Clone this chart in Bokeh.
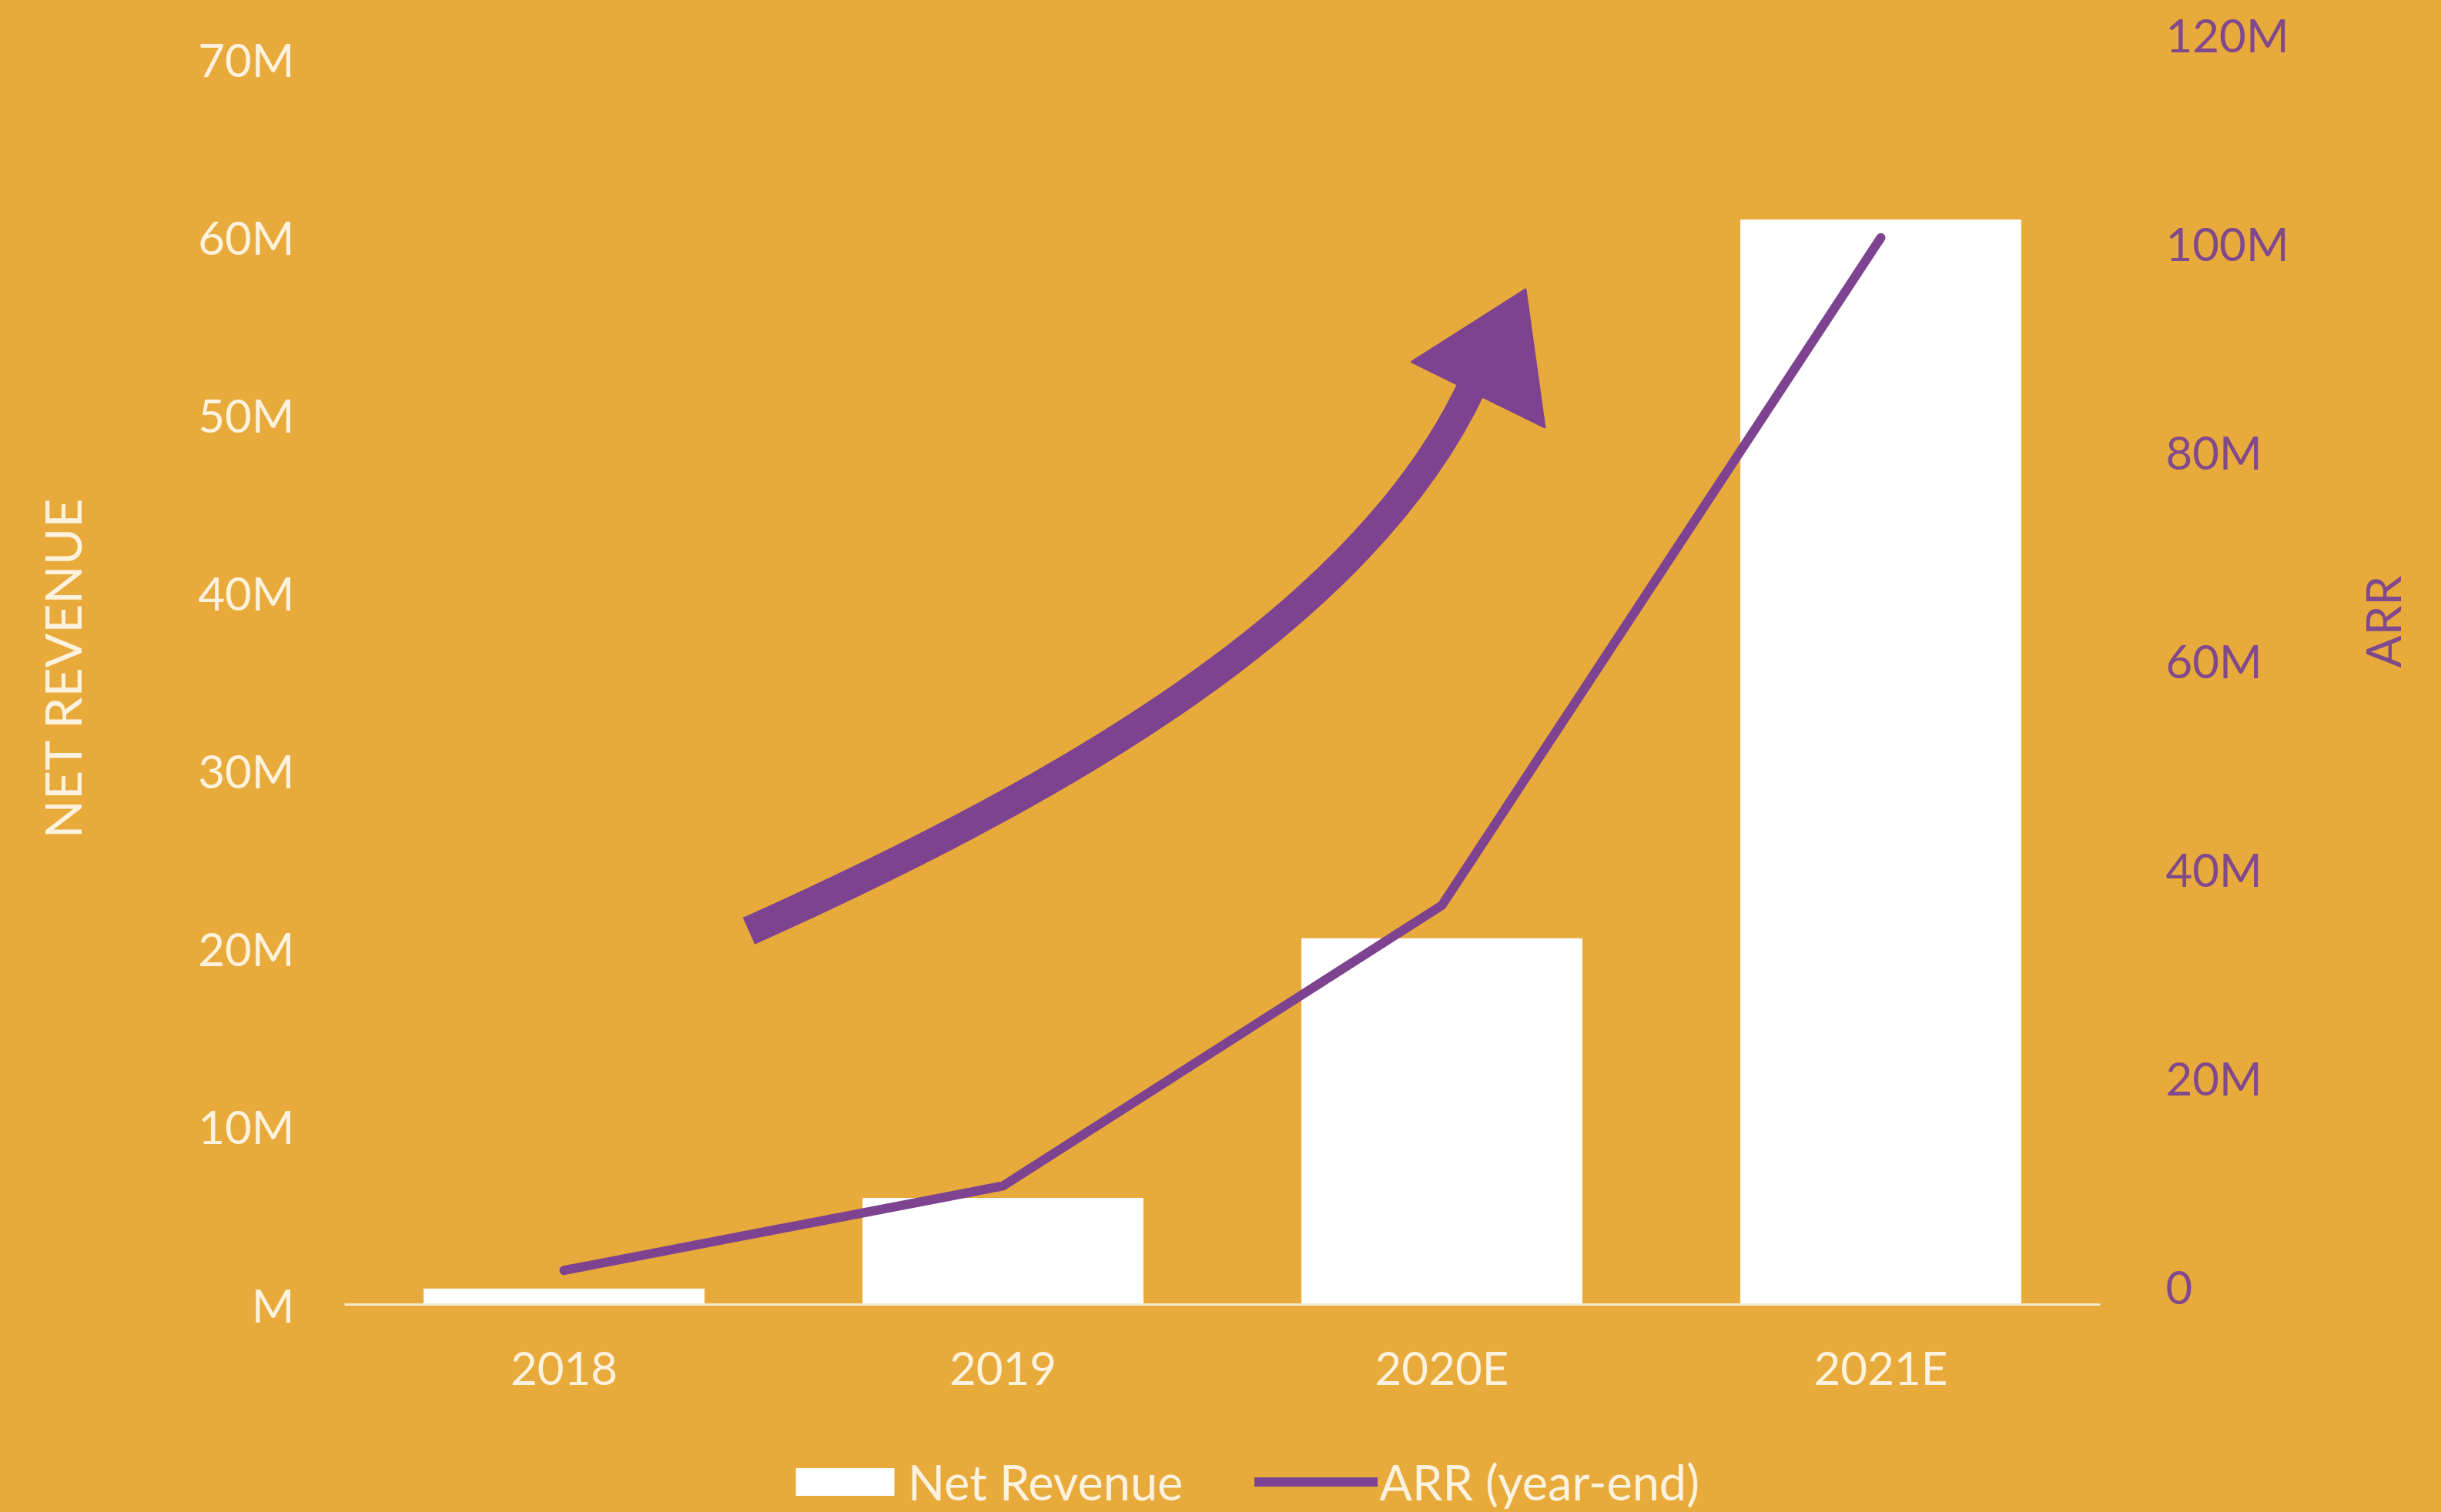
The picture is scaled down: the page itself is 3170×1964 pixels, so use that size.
import math
from bokeh.plotting import figure
from bokeh.layouts import column
from bokeh.models import (Range1d, FactorRange, LinearAxis, FixedTicker, Legend,
                          LegendItem, ColumnDataSource)
from bokeh.embed import file_html
from bokeh.resources import INLINE

# ---- data (values in millions) ----
categories = ["2018", "2019", "2020E", "2021E"]
net_revenue = [0.9, 6.0, 20.6, 61.0]
arr_year_end = [1.5, 9.6, 36.5, 100.5]

left_ticks = [0, 10, 20, 30, 40, 50, 60, 70]
left_labels = ["M", "10M", "20M", "30M", "40M", "50M", "60M", "70M"]
right_ticks = [0, 20, 40, 60, 80, 100, 120]
right_labels = ["0", "20M", "40M", "60M", "80M", "100M", "120M"]

# decorative growth arrow (synthetic category x, left-axis y in millions)
arrow_shaft = dict(x0=[0.921], y0=[21.0], cx0=[1.642], cy0=[29.0],
                   cx1=[2.325], cy1=[38.7], x1=[2.570], y1=[51.7])
arrow_head_x = [2.430, 2.691, 2.735]
arrow_head_y = [53.0, 57.1, 49.3]

# ---- style ----
BG = "#E8AA3B"
PURPLE = "#7D4391"
CREAM = "#FCF2DE"
LABEL_PURPLE = "#80498C"
FONT = "Lato"
FS = "60px"

p = figure(width=3170, height=1850,
           x_range=FactorRange(factors=categories),
           y_range=Range1d(0, 71.6),
           output_backend="svg", toolbar_location=None,
           min_border_left=447, min_border_right=443,
           min_border_top=40, min_border_bottom=156,
           background_fill_color=BG, border_fill_color=BG,
           outline_line_color=None)
p.styles = {"background-color": BG}
p.extra_y_ranges = {"arr": Range1d(-1.77, 120.3)}
p.grid.visible = False

src = ColumnDataSource(dict(cat=categories, rev=net_revenue, arr=arr_year_end))

bars = p.vbar(x="cat", top="rev", width=0.64, source=src,
              fill_color="white", line_color=None)
line = p.line(x="cat", y="arr", source=src, y_range_name="arr",
              line_color=PURPLE, line_width=12,
              line_cap="round", line_join="round")

# growth arrow
p.bezier(line_color=PURPLE, line_width=38, line_cap="butt", **arrow_shaft)
p.patch(arrow_head_x, arrow_head_y, fill_color=PURPLE, line_color=PURPLE,
        line_width=2)

# x axis
xa = p.xaxis[0]
xa.axis_line_color = "#F6E8D2"
xa.axis_line_width = 3
xa.major_tick_line_color = None
xa.minor_tick_line_color = None
xa.major_tick_out = 0
xa.major_tick_in = 0
xa.major_label_standoff = 45
xa.major_label_text_font = FONT
xa.major_label_text_font_size = FS
xa.major_label_text_color = CREAM

# left axis
ya = p.yaxis[0]
ya.ticker = FixedTicker(ticks=left_ticks)
ya.major_label_overrides = dict(zip(left_ticks, left_labels))
ya.axis_line_color = None
ya.major_tick_line_color = None
ya.minor_tick_line_color = None
ya.major_tick_out = 0
ya.major_tick_in = 0
ya.major_label_standoff = 65
ya.major_label_text_font = FONT
ya.major_label_text_font_size = FS
ya.major_label_text_color = CREAM
ya.axis_label = "NET REVENUE"
ya.axis_label_text_font = FONT
ya.axis_label_text_font_size = "66px"
ya.axis_label_text_font_style = "normal"
ya.axis_label_text_color = CREAM
ya.axis_label_standoff = 134

# right axis
ra = LinearAxis(y_range_name="arr", ticker=FixedTicker(ticks=right_ticks),
                major_label_overrides=dict(zip(right_ticks, right_labels)))
ra.axis_line_color = None
ra.major_tick_line_color = None
ra.minor_tick_line_color = None
ra.major_tick_out = 0
ra.major_tick_in = 0
ra.major_label_standoff = 85
ra.major_label_text_font = FONT
ra.major_label_text_font_size = FS
ra.major_label_text_color = LABEL_PURPLE
ra.axis_label = "ARR"
ra.axis_label_text_font = FONT
ra.axis_label_text_font_size = "62px"
ra.axis_label_text_font_style = "normal"
ra.axis_label_text_color = LABEL_PURPLE
ra.axis_label_standoff = 118
ra.axis_label_orientation = math.pi / 2
p.add_layout(ra, "right")

# ---- legend strip below the chart ----
lf = figure(width=3170, height=114, x_range=Range1d(0, 1), y_range=Range1d(0, 1),
            output_backend="svg", toolbar_location=None,
            x_axis_location=None, y_axis_location=None,
            min_border=0, min_border_left=0, min_border_right=0,
            min_border_top=0, min_border_bottom=0,
            background_fill_color=BG, border_fill_color=BG,
            outline_line_color=None)
lf.styles = {"background-color": BG}
lf.grid.visible = False
# legend-only swatch renderers (zero-size / out of view, nothing visible)
lg_bar = lf.vbar(x=[0.5], bottom=[0], top=[0], width=0.0001,
                 fill_color="white", line_color=None)
lg_line = lf.line(x=[0.4, 0.6], y=[-5, -5], line_color=PURPLE, line_width=12,
                  line_cap="round")

legend = Legend(items=[LegendItem(label="Net Revenue", renderers=[lg_bar]),
                       LegendItem(label="ARR (year-end)", renderers=[lg_line])],
                orientation="horizontal", location=(570, 2),
                glyph_width=160, glyph_height=45, label_standoff=2,
                spacing=93, padding=0, margin=0,
                border_line_alpha=0, background_fill_alpha=0,
                label_text_font=FONT, label_text_font_size="63px",
                label_text_color=CREAM)
lf.add_layout(legend)

layout = column(p, lf, spacing=0)
layout.styles = {"background-color": BG}

open("out.html", "w").write(file_html(layout, INLINE))
